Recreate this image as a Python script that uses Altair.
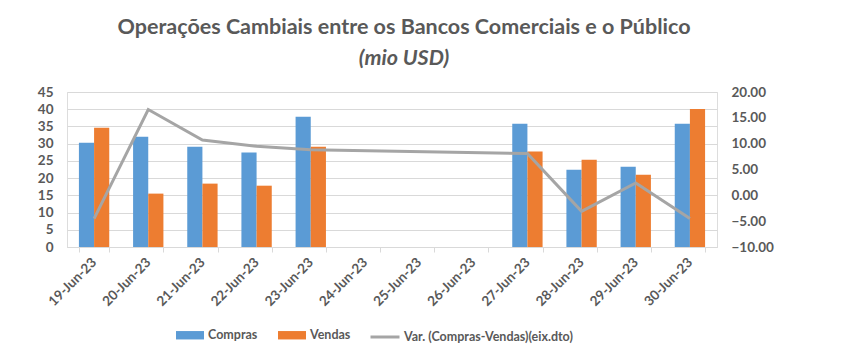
import altair as alt
import pandas as pd

dates = ["19-Jun-23", "20-Jun-23", "21-Jun-23", "22-Jun-23", "23-Jun-23", "24-Jun-23",
         "25-Jun-23", "26-Jun-23", "27-Jun-23", "28-Jun-23", "29-Jun-23", "30-Jun-23"]
compras = [30.3, 32.0, 29.1, 27.4, 37.8, None, None, None, 35.8, 22.4, 23.3, 35.8]
vendas = [34.6, 15.5, 18.4, 17.8, 29.1, None, None, None, 27.7, 25.3, 21.0, 40.1]
var_cv = [-4.5, 16.6, 10.7, 9.5, 8.8, None, None, None, 8.1, -3.1, 2.4, -4.5]

bar_series = ["Compras", "Vendas"]
line_name = "Var. (Compras-Vendas)(eix.dto)"
left_ticks = [0, 5, 10, 15, 20, 25, 30, 35, 40, 45]
right_ticks = [-10, -5, 0, 5, 10, 15, 20]

rows = []
for d, c, v in zip(dates, compras, vendas):
    if c is not None:
        rows.append({"date": d, "serie": "Compras", "valor": c})
    if v is not None:
        rows.append({"date": d, "serie": "Vendas", "valor": v})
bars_df = pd.DataFrame(rows)
line_df = pd.DataFrame([{"date": d, "serie": line_name, "var": x}
                        for d, x in zip(dates, var_cv) if x is not None])

FONT = "Lato"
GREY = "#595959"

x_enc = alt.X("date:N", sort=dates,
              scale=alt.Scale(domain=dates, paddingInner=0.44, paddingOuter=0.22),
              axis=alt.Axis(title=None, labelAngle=-45, labelAlign="right", labelBaseline="middle",
                            tickBand="extent", domainColor="#d9d9d9", tickColor="#d9d9d9",
                            tickSize=5, grid=False, labelFontSize=13.5, labelFontWeight="bold",
                            labelColor=GREY, labelFont=FONT, labelPadding=8, labelOverlap=False))

bars = alt.Chart(bars_df).mark_bar().encode(
    x=x_enc,
    xOffset=alt.XOffset("serie:N", scale=alt.Scale(domain=bar_series, paddingInner=0, paddingOuter=0)),
    y=alt.Y("valor:Q", scale=alt.Scale(domain=[0, 45], nice=False),
            axis=alt.Axis(title=None, values=left_ticks, format="d", grid=True, gridColor="#d9d9d9",
                          domain=False, ticks=False, labelPadding=14, labelFontSize=13.5,
                          labelFontWeight="bold", labelColor=GREY, labelFont=FONT)),
    color=alt.Color("serie:N", scale=alt.Scale(domain=bar_series, range=["#5B9BD5", "#ED7D31"]),
                    legend=alt.Legend(title=None, orient="none", direction="horizontal",
                                      legendX=109, legendY=229,
                                      symbolType="M-1,-0.3H1V0.3H-1Z", symbolSize=784,
                                      symbolStrokeWidth=0, labelFontSize=12.5, labelFontWeight="bold",
                                      labelColor=GREY, labelFont=FONT, labelOffset=4,
                                      columnPadding=20, labelLimit=300)),
)

line = alt.Chart(line_df).mark_line(strokeWidth=3).encode(
    x=alt.X("date:N", sort=dates),
    y=alt.Y("var:Q", scale=alt.Scale(domain=[-10, 20], nice=False),
            axis=alt.Axis(title=None, orient="right", values=right_ticks, format=".2f", grid=False,
                          domain=False, ticks=False, labelPadding=14, labelFontSize=13.5,
                          labelFontWeight="bold", labelColor=GREY, labelFont=FONT)),
    color=alt.Color("serie:N", scale=alt.Scale(domain=[line_name], range=["#A5A5A5"]),
                    legend=alt.Legend(title=None, orient="none", direction="horizontal",
                                      legendX=302, legendY=229, symbolType="stroke",
                                      symbolSize=841, symbolStrokeWidth=3, labelFontSize=12.5,
                                      labelFontWeight="bold", labelColor=GREY, labelFont=FONT,
                                      labelOffset=3, labelLimit=400)),
)

chart = alt.layer(bars, line).resolve_scale(y="independent", color="independent").properties(
    width=650, height=155,
    title=alt.TitleParams(text="Operações Cambiais entre os Bancos Comerciais e o Público",
                          subtitle="(mio USD)", anchor="middle", dx=12, offset=16,
                          font=FONT, fontSize=21.5, fontWeight="bold", color=GREY,
                          subtitleFont=FONT, subtitleFontSize=21.5, subtitleFontWeight="bold",
                          subtitleFontStyle="italic", subtitleColor=GREY, subtitlePadding=9),
    autosize=alt.AutoSizeParams(type="none"),
    padding={"left": 59, "top": 84, "right": 117, "bottom": 102},
).configure_view(stroke=None).configure(background="white")

chart.save("out.html", embed_options={"renderer": "svg", "actions": False})
